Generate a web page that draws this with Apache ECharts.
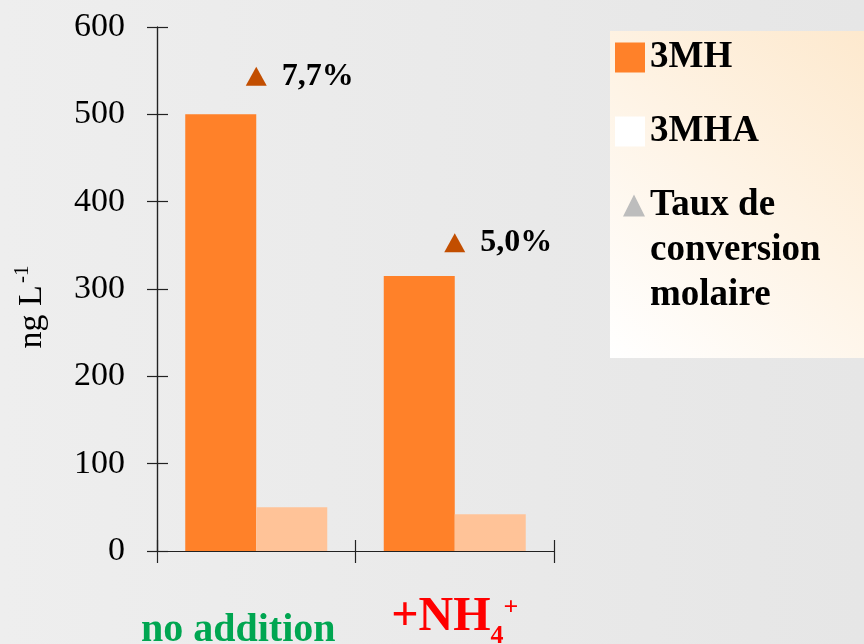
<!DOCTYPE html>
<html>
<head>
<meta charset="utf-8">
<script src="https://cdn.jsdelivr.net/npm/echarts@6/dist/echarts.min.js"></script>
<style>
  html, body { margin: 0; padding: 0; }
  #chart { width: 864px; height: 644px; }
</style>
</head>
<body>
<div id="chart"></div>
<script>
// 数据
var categories = ['no addition', '+NH4+'];
var val3MH = [500, 315];
var val3MHA = [50, 42];
var tauxConversion = [7.7, 5.0];
var yTicks = { min: 0, max: 600, interval: 100 };
var tauxMax = 8.5;

var serif = "'Liberation Serif', 'DejaVu Serif', serif";

var myChart = echarts.init(document.getElementById('chart'));
var option = {
    backgroundColor: {
        type: 'linear', x: 0, y: 0, x2: 1, y2: 0,
        colorStops: [{ offset: 0, color: '#eeeeee' }, { offset: 1, color: '#e6e6e6' }]
    },
    animation: false,
    grid: [
        { left: 157, right: 310, top: 27, bottom: 93, containLabel: false, outerBoundsMode: 'none' },
        // même cadre : échelle du taux + petits traits vers l'intérieur
        { left: 157, right: 310, top: 27, bottom: 93, containLabel: false, outerBoundsMode: 'none' }
    ],
    legend: [{
        // 3MH / 3MHA + fond du cadre
        orient: 'vertical',
        left: 610,
        top: 31,
        padding: [8, 130, 208, 5],
        itemWidth: 30,
        itemHeight: 30,
        itemGap: 37,
        selectedMode: false,
        backgroundColor: {
            type: 'linear', x: 0, y: 1, x2: 1, y2: 0,
            colorStops: [{ offset: 0, color: '#ffffff' }, { offset: 1, color: '#fde8cc' }]
        },
        textStyle: { fontFamily: serif, fontSize: 37, fontWeight: 'bold', color: '#000', lineHeight: 30 },
        data: [
            { name: '3MH', icon: 'rect', itemStyle: { color: '#ff8129' } },
            { name: '3MHA', icon: 'rect', itemStyle: { color: '#ffffff' } }
        ]
    }, {
        orient: 'vertical',
        left: 623,
        top: 93,
        padding: 0,
        z: 6,
        itemWidth: 22,
        itemHeight: 22,
        selectedMode: false,
        formatter: function () { return '\n\nTaux de\nconversion\nmolaire'; },
        textStyle: { fontFamily: serif, fontSize: 37, fontWeight: 'bold', color: '#000', lineHeight: 45 },
        data: [
            { name: 'Taux de conversion molaire', icon: 'triangle', itemStyle: { color: '#bdbdbd' } }
        ]
    }],
    xAxis: [{
        type: 'category',
        gridIndex: 0,
        data: categories,
        axisLine: { lineStyle: { color: '#222', width: 1.2 } },
        axisTick: { show: true, length: 12, lineStyle: { color: '#222', width: 1.2 } },
        axisLabel: {
            margin: 40,
            interval: 0,
            formatter: function (v) {
                if (v === 'no addition') return '{g|no addition}';
                return '{r|+NH}{sub|4}{sup|+}';
            },
            rich: {
                g: { color: '#00a651', fontFamily: serif, fontSize: 40, fontWeight: 'bold', lineHeight: 44, padding: [36, 36, 0, 0] },
                r: { color: '#ff0000', fontFamily: serif, fontSize: 48, fontWeight: 'bold', lineHeight: 50, padding: [4, 0, 0, 0] },
                sub: { color: '#ff0000', fontFamily: serif, fontSize: 26, fontWeight: 'bold', verticalAlign: 'bottom', padding: [0, 0, -8, 0] },
                sup: { color: '#ff0000', fontFamily: serif, fontSize: 26, fontWeight: 'bold', verticalAlign: 'top', padding: [4, 0, 0, 0] }
            }
        }
    }, {
        // petits traits vers l'intérieur
        type: 'category',
        gridIndex: 0,
        data: categories,
        position: 'bottom',
        offset: 0,
        axisLine: { show: true, lineStyle: { color: '#222', width: 1.2 } },
        axisTick: { show: true, inside: true, length: 11, lineStyle: { color: '#222', width: 1.2 } },
        axisLabel: { show: false }
    }, {
        type: 'category',
        gridIndex: 1,
        data: categories,
        show: false
    }],
    yAxis: [{
        type: 'value',
        gridIndex: 0,
        position: 'left',
        min: yTicks.min,
        max: yTicks.max,
        interval: yTicks.interval,
        name: '{a|ng L}{b|-1}',
        nameLocation: 'middle',
        nameGap: 105,
        nameTextStyle: {
            padding: [0, 36, 0, 0],
            rich: {
                a: { fontFamily: serif, fontSize: 34, color: '#000', lineHeight: 40 },
                b: { fontFamily: serif, fontSize: 21, color: '#000', verticalAlign: 'top', padding: [0, 0, 0, 2] }
            }
        },
        splitLine: { show: false },
        axisLine: { show: true, lineStyle: { color: '#222', width: 1.2 } },
        axisTick: { show: true, length: 10, lineStyle: { color: '#222', width: 1.2 } },
        axisLabel: { margin: 32, fontFamily: serif, fontSize: 34, color: '#000' }
    }, {
        // échelle du taux (0 - 8,5 en 6 pas), alignée sur 0 - 600
        type: 'value',
        gridIndex: 1,
        position: 'left',
        offset: 0,
        min: 0,
        max: tauxMax,
        interval: tauxMax / 6,
        splitLine: { show: false },
        axisLine: { show: true, lineStyle: { color: '#222', width: 1.2 } },
        axisTick: { show: true, inside: true, length: 11, lineStyle: { color: '#222', width: 1.2 } },
        axisLabel: { show: true, inside: true, color: 'rgba(0,0,0,0)' }
    }],
    series: [{
        name: '3MH',
        type: 'bar',
        data: val3MH,
        barWidth: 71,
        barGap: '0%',
        itemStyle: { color: '#ff8129' }
    }, {
        name: '3MHA',
        type: 'bar',
        data: val3MHA,
        barWidth: 71,
        barGap: '0%',
        itemStyle: { color: '#ffc398' }
    }, {
        name: 'Taux de conversion molaire',
        type: 'scatter',
        xAxisIndex: 2,
        yAxisIndex: 1,
        data: tauxConversion,
        symbol: 'triangle',
        symbolSize: [21, 19],
        itemStyle: { color: '#c24e00', opacity: 1 },
        label: {
            show: true,
            position: 'right',
            distance: 15,
            fontFamily: serif,
            fontSize: 32,
            fontWeight: 'bold',
            color: '#000',
            formatter: function (p) { return p.value.toFixed(1).replace('.', ',') + '%'; }
        }
    }]
};
myChart.setOption(option);
</script>
</body>
</html>
